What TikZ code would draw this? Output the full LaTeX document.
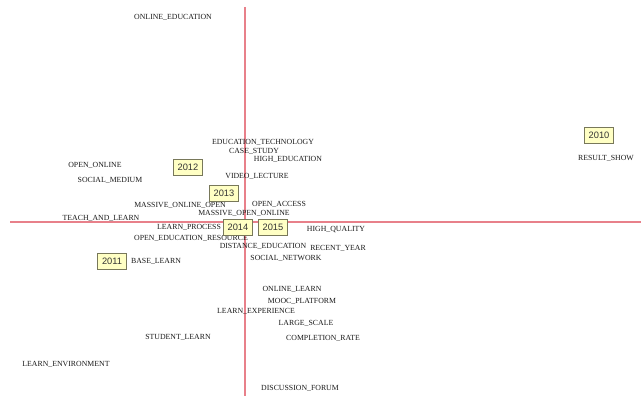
\documentclass[tikz,border=0pt]{standalone}
\usepackage{fontspec}
\setmainfont{Liberation Serif}
\newfontfamily\boxfont{Liberation Sans}
\definecolor{axisred}{RGB}{232,128,138}
\definecolor{boxfill}{RGB}{255,255,196}
\definecolor{boxline}{RGB}{120,120,90}
\definecolor{txt}{RGB}{25,25,25}
\begin{document}
\begin{tikzpicture}[x=1pt,y=-1pt,
  term/.style={inner sep=0pt, text=txt, font=\fontsize{7.8}{8}\selectfont},
  year/.style={draw=boxline, fill=boxfill, line width=0.6pt, inner xsep=2.5pt, inner ysep=2pt, minimum width=29pt, minimum height=16pt, font=\boxfont\fontsize{9.3}{10}\selectfont, text=black!80},
  axis/.style={draw=axisred, line width=1.2pt}]
\useasboundingbox (0,0) rectangle (641,396);
\coordinate (vtop) at (245,7);
\coordinate (vbot) at (245,396);
\coordinate (hl) at (10,222);
\coordinate (hr) at (641,222);
\draw[axis] (vtop) -- (vbot);
\draw[axis] (hl) -- (hr);

\node[term] (n1) at (173,17) {ONLINE\_EDUCATION};
\node[term] (n2) at (263,142) {EDUCATION\_TECHNOLOGY};
\node[term] (n3) at (254,151) {CASE\_STUDY};
\node[term] (n4) at (288,159) {HIGH\_EDUCATION};
\node[term] (n5) at (95,165) {OPEN\_ONLINE};
\node[term] (n6) at (110,180) {SOCIAL\_MEDIUM};
\node[term] (n7) at (257,176) {VIDEO\_LECTURE};
\node[term] (n8) at (180,205) {MASSIVE\_ONLINE\_OPEN};
\node[term] (n9) at (279,204) {OPEN\_ACCESS};
\node[term] (n10) at (244,213) {MASSIVE\_OPEN\_ONLINE};
\node[term] (n11) at (101,218) {TEACH\_AND\_LEARN};
\node[term] (n12) at (189,227) {LEARN\_PROCESS};
\node[term] (n13) at (336,230) {HIGH\_QUALITY};
\node[term] (n14) at (191,238) {OPEN\_EDUCATION\_RESOURCE};
\node[term] (n15) at (263,246) {DISTANCE\_EDUCATION};
\node[term] (n16) at (338,248) {RECENT\_YEAR};
\node[term] (n17) at (286,258) {SOCIAL\_NETWORK};
\node[term] (n18) at (156,261) {BASE\_LEARN};
\node[term] (n19) at (606,158) {RESULT\_SHOW};
\node[term] (n20) at (292,289) {ONLINE\_LEARN};
\node[term] (n21) at (302,301) {MOOC\_PLATFORM};
\node[term] (n22) at (256,311) {LEARN\_EXPERIENCE};
\node[term] (n23) at (306,323) {LARGE\_SCALE};
\node[term] (n24) at (178,337) {STUDENT\_LEARN};
\node[term] (n25) at (323,338) {COMPLETION\_RATE};
\node[term] (n26) at (66,364) {LEARN\_ENVIRONMENT};
\node[term] (n27) at (300,388) {DISCUSSION\_FORUM};

\node[year] (y2010) at (599,135) {2010};
\node[year] (y2011) at (112,261) {2011};
\node[year] (y2012) at (188,167) {2012};
\node[year] (y2013) at (224,193) {2013};
\node[year] (y2014) at (238,227) {2014};
\node[year] (y2015) at (273,227) {2015};
\end{tikzpicture}
\end{document}
